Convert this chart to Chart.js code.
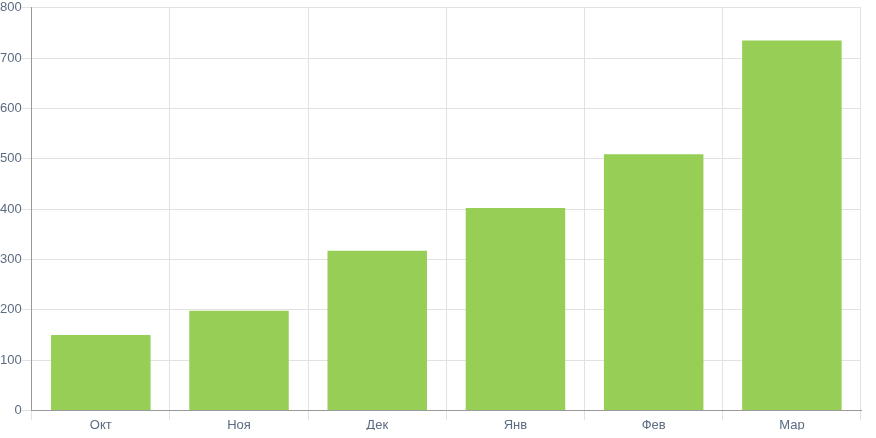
<!DOCTYPE html>
<html>
<head>
<meta charset="utf-8">
<script src="https://cdn.jsdelivr.net/npm/chart.js@4"></script>
<style>
  html, body { margin: 0; padding: 0; background: #fff; }
  #wrap { width: 876px; height: 438px; }
</style>
</head>
<body>
<div id="wrap"><canvas id="chartBars"></canvas></div>
<script>
const labels = ['Окт', 'Ноя', 'Дек', 'Янв', 'Фев', 'Мар'];
const values = [150, 198, 317, 402, 509, 735];
const yTicks = [0, 100, 200, 300, 400, 500, 600, 700, 800];

var ctx = document.getElementById('chartBars').getContext('2d');
var chart = new Chart(ctx, {
    type: 'bar',
    data: {
        labels: labels,
        datasets: [
            {
            label: 'Значение',
            backgroundColor: '#97cf56',
            borderWidth: 0,
            data: values
            }
        ]
    },
    options: {
        responsive: true,
        maintainAspectRatio: false,
        animation: false,
        layout: { padding: { left: 0, right: 15, top: -1, bottom: 8 } },
        plugins: {
            legend: { display: false },
            tooltip: { enabled: false }
        },
        scales: {
            x: {
                grid: { color: '#e2e2e2', tickLength: 10, offset: true },
                border: { color: '#999' },
                ticks: { color: '#5b6b80', padding: -3, font: { family: 'Liberation Sans', size: 13 } }
            },
            y: {
                min: yTicks[0],
                max: yTicks[yTicks.length - 1],
                afterBuildTicks: function(axis) {
                    axis.ticks = yTicks.map(v => ({ value: v }));
                },
                grid: { color: '#e2e2e2', tickLength: 10 },
                border: { color: '#999' },
                ticks: { color: '#5b6b80', padding: 0, font: { family: 'Liberation Sans', size: 13 } }
            }
        }
    }
});
</script>
</body>
</html>
